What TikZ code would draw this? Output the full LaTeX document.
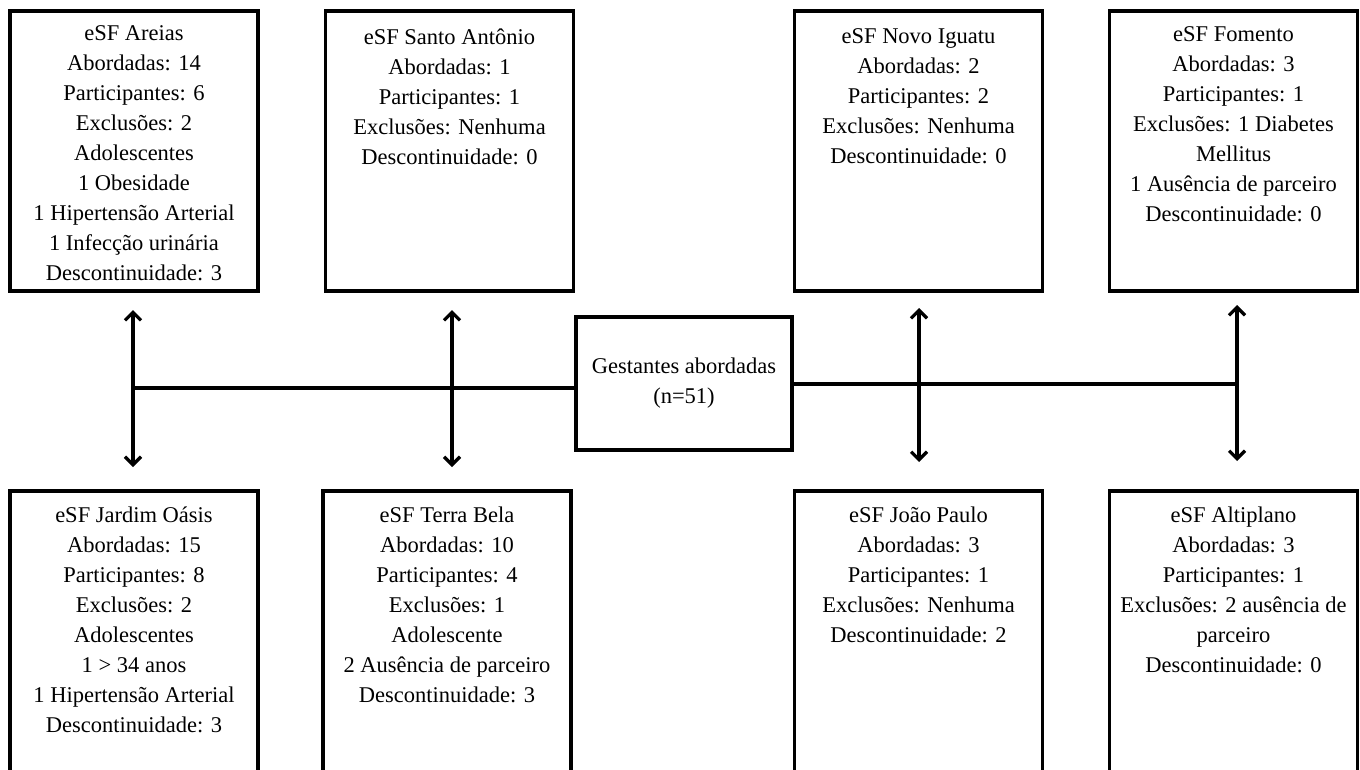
\documentclass[tikz,border=0pt]{standalone}
\usepackage{fontspec}
\setmainfont{Liberation Serif}
\usetikzlibrary{arrows.meta}
\tikzset{
  box/.style={draw, line width=3.2pt, minimum width=248pt, inner sep=0pt},
  topbox/.style={box, minimum height=280pt},
  botbox/.style={box, minimum height=290pt},
  txt/.style={anchor=north, align=center, inner sep=0pt, font=\fontsize{22.5}{30}\selectfont},
  link/.style={line width=3.2pt},
  dbl/.style={line width=3.2pt, {Straight Barb[length=8pt,width=16pt,line width=3.2pt]}-{Straight Barb[length=8pt,width=16pt,line width=3.2pt]}}
}
\newcommand{\fl}{\rule{0pt}{21pt}}
\begin{document}
\begin{tikzpicture}[x=1pt,y=-1pt]
\useasboundingbox (0,0) rectangle (1360,769);
\clip (0,0) rectangle (1360,769);
\fill[white] (0,0) rectangle (1360,769);
% top row boxes
\node[topbox] (areias) at (134,151) {};
\node[topbox] (santo) at (449.5,151) {};
\node[topbox] (novo) at (918.5,151) {};
\node[topbox] (fomento) at (1233.5,151) {};
% bottom row boxes
\node[botbox] (oasis) at (134,636) {};
\node[botbox] (terra) at (447,636) {};
\node[botbox] (joao) at (918.5,636) {};
\node[botbox] (alti) at (1233.5,636) {};
% texts
\node[txt, yshift=-10pt] (areias-t) at (areias.north) {\fl eSF Areias\\Abordadas: 14\\Participantes: 6\\Exclusões: 2\\Adolescentes\\1 Obesidade\\1 Hipertensão Arterial\\1 Infecção urinária\\Descontinuidade: 3};
\node[txt, yshift=-14pt] (santo-t) at (santo.north) {\fl eSF Santo Antônio\\Abordadas: 1\\Participantes: 1\\Exclusões: Nenhuma\\Descontinuidade: 0};
\node[txt, yshift=-13pt] (novo-t) at (novo.north) {\fl eSF Novo Iguatu\\Abordadas: 2\\Participantes: 2\\Exclusões: Nenhuma\\Descontinuidade: 0};
\node[txt, yshift=-11pt] (fomento-t) at (fomento.north) {\fl eSF Fomento\\Abordadas: 3\\Participantes: 1\\Exclusões: 1 Diabetes\\Mellitus\\1 Ausência de parceiro\\Descontinuidade: 0};
\node[txt, yshift=-12pt] (oasis-t) at (oasis.north) {\fl eSF Jardim Oásis\\Abordadas: 15\\Participantes: 8\\Exclusões: 2\\Adolescentes\\1 > 34 anos\\1 Hipertensão Arterial\\Descontinuidade: 3};
\node[txt, yshift=-12pt] (terra-t) at (terra.north) {\fl eSF Terra Bela\\Abordadas: 10\\Participantes: 4\\Exclusões: 1\\Adolescente\\2 Ausência de parceiro\\Descontinuidade: 3};
\node[txt, yshift=-12pt] (joao-t) at (joao.north) {\fl eSF João Paulo\\Abordadas: 3\\Participantes: 1\\Exclusões: Nenhuma\\Descontinuidade: 2};
\node[txt, yshift=-12pt] (alti-t) at (alti.north) {\fl eSF Altiplano\\Abordadas: 3\\Participantes: 1\\Exclusões: 2 ausência de\\parceiro\\Descontinuidade: 0};
% center box
\node[draw, line width=3.2pt, minimum width=216pt, minimum height=133pt, inner sep=0pt, align=center, font=\fontsize{22.5}{30}\selectfont] (gest) at (684,383.5) {Gestantes abordadas\\(n=51)};
% junctions and arrow ends
\coordinate (j1) at (133,388);
\coordinate (j4) at (1237,384);
\coordinate (a1t) at (133,310); \coordinate (a1b) at (133,467);
\coordinate (a2t) at (452,310); \coordinate (a2b) at (452,467);
\coordinate (a3t) at (919,308); \coordinate (a3b) at (919,462);
\coordinate (a4t) at (1237,305); \coordinate (a4b) at (1237,461);
% horizontal connectors
\draw[link] (j1) -- (gest.west |- j1);
\draw[link] (gest.east |- j4) -- (j4);
% vertical double arrows
\draw[dbl] (a1t) -- (a1b);
\draw[dbl] (a2t) -- (a2b);
\draw[dbl] (a3t) -- (a3b);
\draw[dbl] (a4t) -- (a4b);
\end{tikzpicture}
\end{document}
